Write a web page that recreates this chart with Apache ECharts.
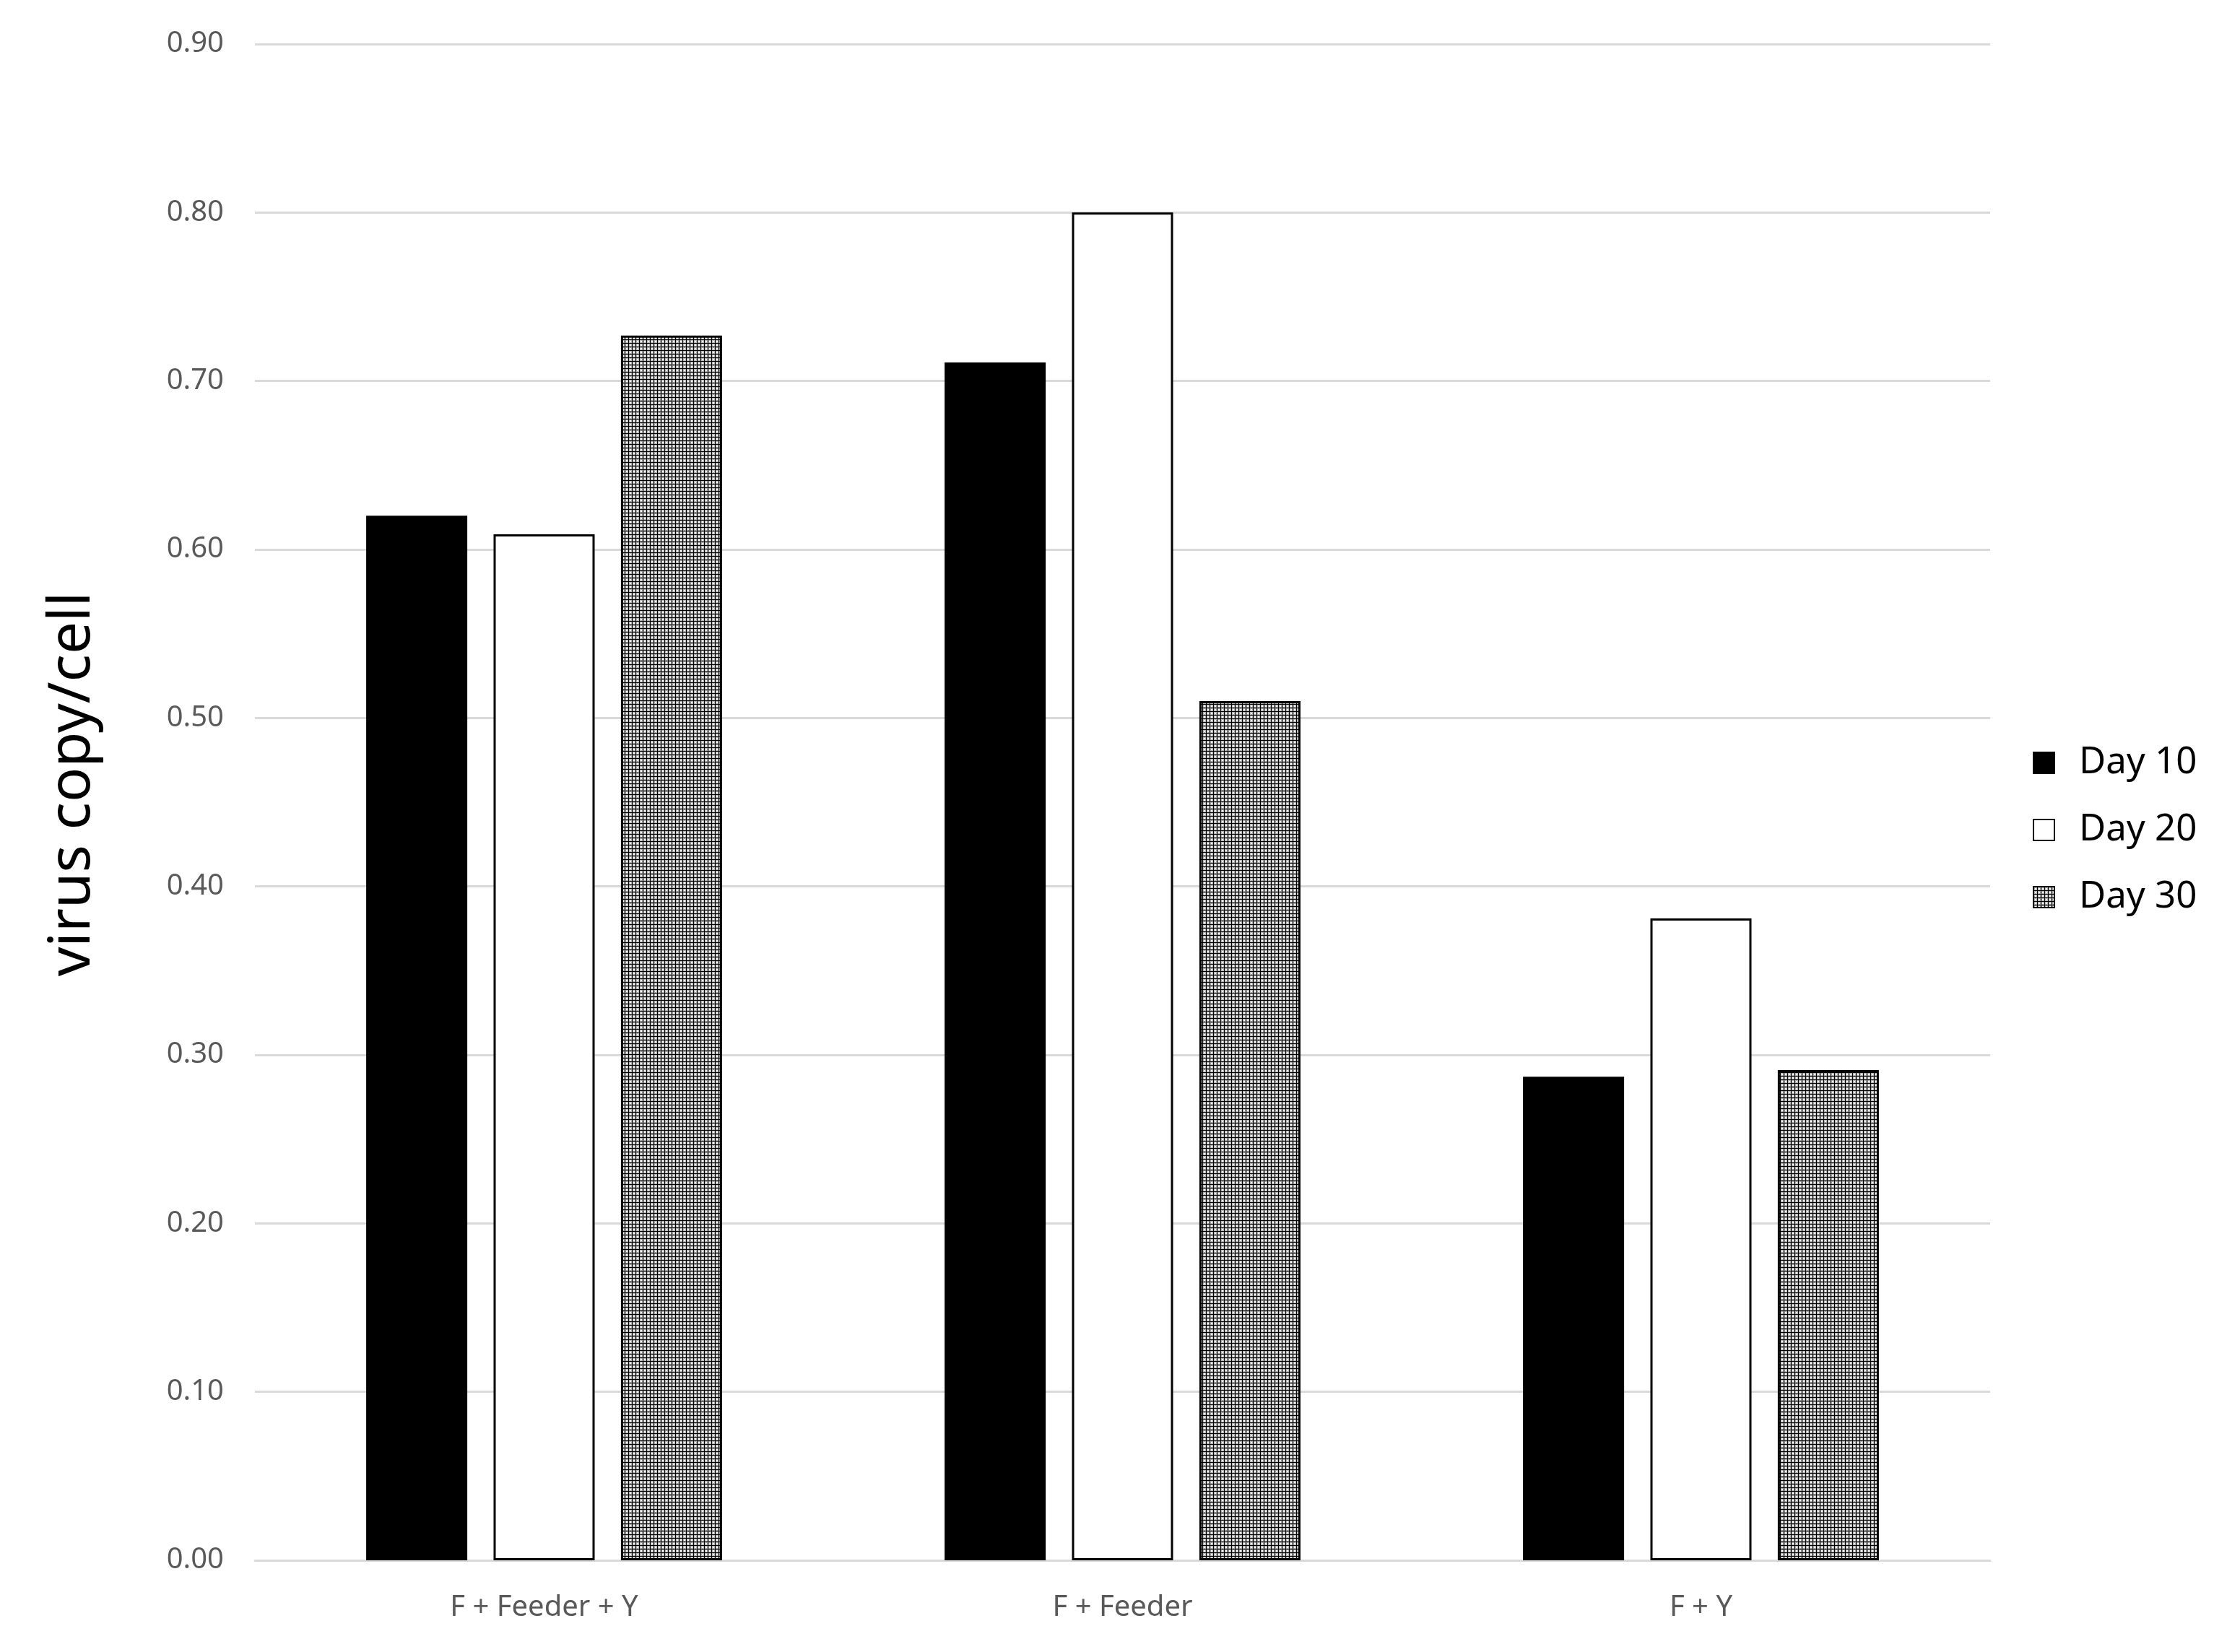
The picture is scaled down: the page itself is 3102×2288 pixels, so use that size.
<!DOCTYPE html>
<html>
<head>
<meta charset="utf-8">
<script src="https://cdn.jsdelivr.net/npm/echarts@6/dist/echarts.min.js"></script>
<style>
  html, body { margin: 0; padding: 0; background: #fff; }
  #chart { width: 3102px; height: 2288px; }
</style>
</head>
<body>
<div id="chart"></div>
<script>
// 数据
var categories = ["F + Feeder + Y", "F + Feeder", "F + Y"];
var day10 = [0.620, 0.711, 0.287];
var day20 = [0.609, 0.800, 0.381];
var day30 = [0.727, 0.510, 0.291];
var seriesNames = ["Day 10", "Day 20", "Day 30"];

// 网点填充 (Day 30)
function makePattern() {
  var c = document.createElement("canvas");
  c.width = 5;
  c.height = 5;
  var ctx = c.getContext("2d");
  ctx.fillStyle = "#b0b0b0";
  ctx.fillRect(0, 0, 5, 5);
  ctx.fillStyle = "#000";
  ctx.fillRect(0, 0, 5, 1);
  ctx.fillRect(0, 0, 1, 5);
  ctx.fillStyle = "#fff";
  ctx.fillRect(2, 2, 2, 2);
  return c;
}

var myChart = echarts.init(document.getElementById("chart"));
var labelColor = "#595959";
var fontFamily = "'Noto Sans', 'Open Sans', sans-serif";

myChart.setOption({
  backgroundColor: "#fff",
  animation: false,
  textStyle: { fontFamily: fontFamily },
  grid: { left: 353, right: 346, top: 61, bottom: 127 },
  legend: {
    orient: "vertical",
    left: 2810,
    top: 1026,
    itemWidth: 29,
    itemHeight: 29,
    itemGap: 42,
    icon: "rect",
    data: seriesNames,
    textStyle: {
      fontSize: 51,
      lineHeight: 48,
      color: "#000",
      padding: [0, 0, 0, 29],
    },
  },
  xAxis: {
    type: "category",
    data: categories,
    axisLine: { lineStyle: { color: "#d9d9d9", width: 3 } },
    axisTick: { show: false },
    axisLabel: { color: labelColor, fontSize: 40, margin: 46 },
  },
  yAxis: {
    type: "value",
    min: 0,
    max: 0.9,
    interval: 0.1,
    name: "virus copy/cell",
    nameLocation: "middle",
    nameRotate: 90,
    nameGap: 212,
    nameTextStyle: { fontSize: 80, color: "#000", padding: [0, 0, 0, 50] },
    axisLine: { show: false },
    axisTick: { show: false },
    axisLabel: {
      color: labelColor,
      fontSize: 40,
      margin: 43,
      formatter: function (v) { return v.toFixed(2); },
    },
    splitLine: { lineStyle: { color: "#d9d9d9", width: 3 } },
  },
  series: [
    {
      name: seriesNames[0],
      type: "bar",
      data: day10,
      barWidth: 140,
      barGap: "26%",
      itemStyle: { color: "#000", borderColor: "#000", borderWidth: 3 },
    },
    {
      name: seriesNames[1],
      type: "bar",
      data: day20,
      barWidth: 140,
      barGap: "26%",
      itemStyle: { color: "#fff", borderColor: "#000", borderWidth: 3 },
    },
    {
      name: seriesNames[2],
      type: "bar",
      data: day30,
      barWidth: 140,
      barGap: "26%",
      itemStyle: {
        color: { image: makePattern(), repeat: "repeat" },
        borderColor: "#000",
        borderWidth: 3,
      },
    },
  ],
});
</script>
</body>
</html>
